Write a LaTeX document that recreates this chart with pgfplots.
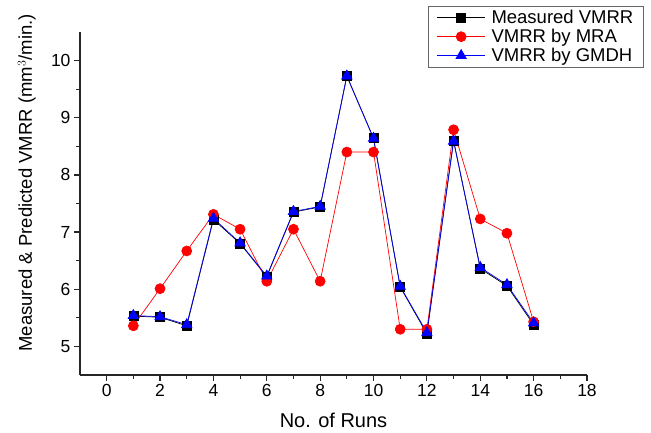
\documentclass[border=0pt]{standalone}
\usepackage{fontspec}
\setmainfont{Liberation Sans}
\usepackage{pgfplots}
\pgfplotsset{compat=1.18}

\begin{document}
\begin{tikzpicture}[x=1pt,y=1pt]
\useasboundingbox (0,0) rectangle (651,433);
\begin{axis}[
    at={(80pt,58pt)}, anchor=south west,
    scale only axis,
    width=507pt, height=343pt,
    xmin=-1, xmax=18, ymin=4.5, ymax=10.5,
    axis lines*=left,
    axis line style={line width=1.5pt, black!85},
    xtick={0,2,...,18}, ytick={5,6,...,10},
    minor tick num=1,
    tick align=outside,
    major tick length=6pt, minor tick length=4pt,
    tick style={line width=1.2pt, black!85},
    /pgf/number format/assume math mode=true,
    ticklabel style={font=\fontsize{17.5}{20}\selectfont},
    xlabel={No. of Runs},
    ylabel={Measured \& Predicted VMRR (mm$^3$/min.)},
    xlabel style={font=\fontsize{20}{23}\selectfont, at={(axis description cs:0.5,-0.1)}, anchor=north},
    ylabel style={font=\fontsize{18.5}{21}\selectfont, at={(axis description cs:-0.105,0.56)}, anchor=center},
    legend style={at={(axis description cs:1.112,1.076)}, anchor=north east,
        font=\fontsize{18.5}{22}\selectfont, draw=black!60, line width=0.8pt,
        row sep=0pt, inner xsep=8pt, inner ysep=2pt,
        /tikz/every odd column/.append style={column sep=4pt}},
    legend cell align=left,
    legend image code/.code={
        \draw[#1, mark repeat=2, mark phase=2] plot coordinates {(0pt,0pt) (24pt,0pt) (48pt,0pt)};},
]
\addplot[black, line width=0.7pt, mark=square*, mark size=4.5pt, mark options={solid}]
coordinates {(1,5.53) (2,5.51) (3,5.36) (4,7.22) (5,6.80) (6,6.22) (7,7.35) (8,7.44)
 (9,9.73) (10,8.64) (11,6.04) (12,5.22) (13,8.60) (14,6.36) (15,6.06) (16,5.38)};
\addlegendentry{Measured VMRR}
\addplot[red, line width=0.7pt, mark=*, mark size=5pt, mark options={solid, fill=red, draw=red}]
coordinates {(1,5.36) (2,6.01) (3,6.67) (4,7.31) (5,7.05) (6,6.14) (7,7.05) (8,6.14)
 (9,8.40) (10,8.40) (11,5.30) (12,5.30) (13,8.79) (14,7.23) (15,6.98) (16,5.43)};
\addlegendentry{VMRR by MRA}
\addplot[blue, line width=0.7pt, mark=triangle*, mark size=6pt, mark options={solid, fill=blue, draw=blue}]
coordinates {(1,5.54) (2,5.52) (3,5.38) (4,7.24) (5,6.81) (6,6.23) (7,7.36) (8,7.45)
 (9,9.73) (10,8.64) (11,6.05) (12,5.24) (13,8.59) (14,6.38) (15,6.08) (16,5.41)};
\addlegendentry{VMRR by GMDH}
\end{axis}
\end{tikzpicture}
\end{document}
